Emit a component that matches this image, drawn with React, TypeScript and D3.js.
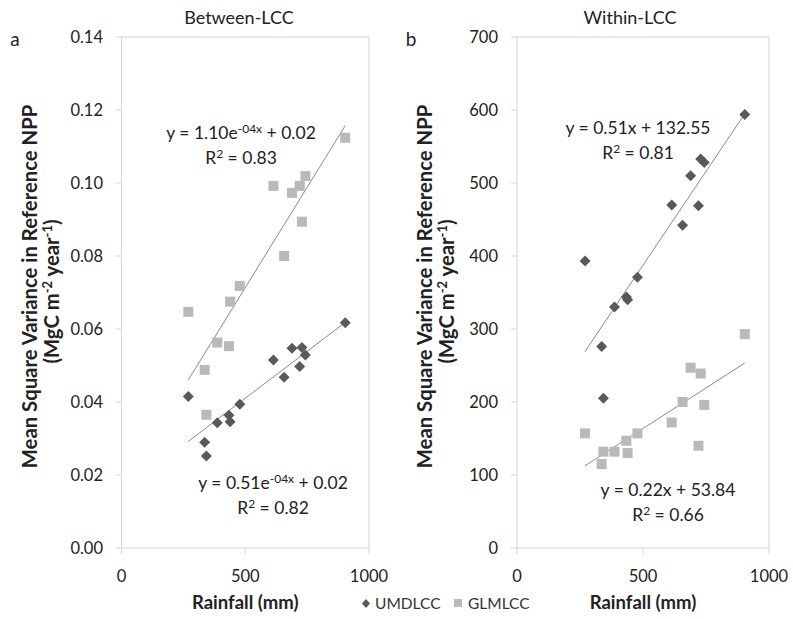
import React from "react";
import * as d3 from "d3";

// ---- data ----
const rainfall = [270, 336, 343, 387, 434, 439, 478, 614, 657, 689, 720, 729, 743, 904];
const betweenUMD = [0.0415, 0.029, 0.0252, 0.0343, 0.0364, 0.0346, 0.0394, 0.0515, 0.0468, 0.0547, 0.0497, 0.0549, 0.0529, 0.0617];
const betweenGLM = [0.0647, 0.0488, 0.0365, 0.0563, 0.0553, 0.0675, 0.0718, 0.0992, 0.08, 0.0973, 0.0992, 0.0894, 0.1019, 0.1124];
const withinUMD = [393, 276, 205, 330, 344, 340, 371, 470, 442, 510, 469, 533, 528, 594];
const withinGLM = [157, 115, 132, 132, 147, 130, 157, 172, 200, 247, 140, 239, 196, 293];
const xTicks = [0, 500, 1000];
const yTicksA = [0, 0.02, 0.04, 0.06, 0.08, 0.1, 0.12, 0.14];
const yTicksB = [0, 100, 200, 300, 400, 500, 600, 700];
const seriesNames = ["UMDLCC", "GLMLCC"];

const FONT = "Lato, 'Open Sans', sans-serif";
const DIAMOND = "#595959";
const SQUARE = "#b9b9b9";
const TREND = "#8a8a8a";
const FRAME = "#d4d4d4";

function fit(xs: number[], ys: number[]) {
  const mx = d3.mean(xs)!;
  const my = d3.mean(ys)!;
  let num = 0, den = 0;
  xs.forEach((x, i) => { num += (x - mx) * (ys[i] - my); den += (x - mx) * (x - mx); });
  const b = num / den;
  return { b, a: my - b * mx };
}

type Eq = { x: number; y: number; main: React.ReactNode; r2: string };

function Panel(props: {
  x0: number; x1: number; yTicks: number[]; yMax: number; fmt: (v: number) => string;
  umd: number[]; glm: number[]; title: string; titleX: number; letter: string; letterX: number;
  tickLabelX: number; ylabX: number; eqTop: Eq; eqBot: Eq;
}) {
  const { x0, x1, yTicks, yMax, fmt, umd, glm } = props;
  const top = 37, bottom = 548;
  const xs = d3.scaleLinear().domain([0, 1000]).range([x0, x1]);
  const ys = d3.scaleLinear().domain([0, yMax]).range([bottom, top]);
  const xmin = d3.min(rainfall)!, xmax = d3.max(rainfall)!;
  const fu = fit(rainfall, umd), fg = fit(rainfall, glm);
  const trend = (f: { a: number; b: number }) =>
    `M${xs(xmin)},${ys(f.a + f.b * xmin)}L${xs(xmax)},${ys(f.a + f.b * xmax)}`;
  const midY = (top + bottom) / 2;
  const eqText = (e: Eq) => (
    <g fontFamily={FONT} fontSize={17.5} fill="#222" textAnchor="middle">
      <text x={e.x} y={e.y}>{e.main}</text>
      <text x={e.x} y={e.y + 25}>R<tspan fontSize={12} dy={-6}>2</tspan><tspan dy={6}> = {e.r2}</tspan></text>
    </g>
  );
  return (
    <g>
      <rect x={x0} y={top} width={x1 - x0} height={bottom - top} fill="none" stroke={FRAME} strokeWidth={1} />
      {yTicks.map((t) => (
        <g key={t}>
          <line x1={x0 - 6} x2={x0} y1={ys(t)} y2={ys(t)} stroke={FRAME} />
          <text x={props.tickLabelX} y={ys(t)} dy="0.35em" textAnchor="end" fontFamily={FONT} fontSize={16.5} fill="#222">{fmt(t)}</text>
        </g>
      ))}
      {xTicks.map((t) => (
        <g key={t}>
          <line x1={xs(t)} x2={xs(t)} y1={bottom} y2={bottom + 6} stroke={FRAME} />
          <text x={xs(t)} y={576} dy="0.35em" textAnchor="middle" fontFamily={FONT} fontSize={16.5} fill="#222">{t}</text>
        </g>
      ))}
      <text x={props.titleX} y={18} dy="0.35em" textAnchor="middle" fontFamily={FONT} fontSize={18} fill="#222">{props.title}</text>
      <text x={props.letterX} y={39} dy="0.35em" textAnchor="middle" fontFamily={FONT} fontSize={19} fill="#222">{props.letter}</text>
      <text x={(x0 + x1) / 2} y={603} dy="0.35em" textAnchor="middle" fontFamily={FONT} fontSize={18.5} fontWeight="bold" fill="#222">Rainfall (mm)</text>
      <g transform={`translate(${props.ylabX},${midY}) rotate(-90)`} fontFamily={FONT} fontSize={20.3} fontWeight="bold" fill="#222" textAnchor="middle">
        <text x={6} y={0}>Mean Square Variance in Reference NPP</text>
        <text x={1} y={22}>(MgC m<tspan fontSize={13} dy={-7}>-2</tspan><tspan dy={7}> year</tspan><tspan fontSize={13} dy={-7}>-1</tspan><tspan dy={7}>)</tspan></text>
      </g>
      <path d={trend(fg)} stroke={TREND} strokeWidth={1} fill="none" />
      <path d={trend(fu)} stroke={TREND} strokeWidth={1} fill="none" />
      {glm.map((v, i) => (
        <rect key={"g" + i} x={xs(rainfall[i]) - 5} y={ys(v) - 5} width={10} height={10} fill={SQUARE} />
      ))}
      {umd.map((v, i) => {
        const cx = xs(rainfall[i]), cy = ys(v), r = 5.5;
        return <path key={"u" + i} d={`M${cx},${cy - r}L${cx + r},${cy}L${cx},${cy + r}L${cx - r},${cy}Z`} fill={DIAMOND} />;
      })}
      {eqText(props.eqTop)}
      {eqText(props.eqBot)}
    </g>
  );
}

export default function App() {
  const sup = (s: string) => <tspan fontSize={12} dy={-6}>{s}</tspan>;
  return (
    <svg width={793} height={619} style={{ position: "absolute", left: 0, top: 0, background: "#fff" }}>
      <rect width={793} height={619} fill="#fff" />
      <Panel
        x0={121.5} x1={369} yTicks={yTicksA} yMax={0.14} fmt={(v) => v.toFixed(2)}
        umd={betweenUMD} glm={betweenGLM} title="Between-LCC" titleX={239} letter="a" letterX={15}
        tickLabelX={103} ylabX={37}
        eqTop={{ x: 241, y: 139, main: <>y = 1.10e{sup("-04x")}<tspan dy={6}> + 0.02</tspan></>, r2: "0.83" }}
        eqBot={{ x: 273, y: 489, main: <>y = 0.51e{sup("-04x")}<tspan dy={6}> + 0.02</tspan></>, r2: "0.82" }}
      />
      <Panel
        x0={517} x1={769} yTicks={yTicksB} yMax={700} fmt={(v) => String(v)}
        umd={withinUMD} glm={withinGLM} title="Within-LCC" titleX={630} letter="b" letterX={411}
        tickLabelX={498} ylabX={432}
        eqTop={{ x: 638, y: 134, main: <>y = 0.51x + 132.55</>, r2: "0.81" }}
        eqBot={{ x: 668, y: 496, main: <>y = 0.22x + 53.84</>, r2: "0.66" }}
      />
      <g fontFamily={FONT} fontSize={15.5} fill="#333">
        <path d="M366,599L370,603.5L366,608L362,603.5Z" fill={DIAMOND} />
        <text x={375} y={603.5} dy="0.35em">{seriesNames[0]}</text>
        <rect x={454} y={599} width={8} height={8} fill={SQUARE} />
        <text x={468} y={603.5} dy="0.35em">{seriesNames[1]}</text>
      </g>
    </svg>
  );
}
